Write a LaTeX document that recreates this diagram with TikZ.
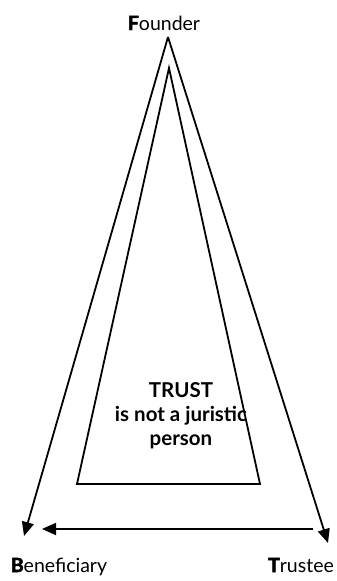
\documentclass[tikz,border=0pt]{standalone}
\usepackage{fontspec}
\setmainfont{Lato}
\newfontfamily\heavyfont[FakeBold=2.5]{Lato}
\newcommand{\heavyinit}[1]{{\heavyfont\bfseries #1}}
\usetikzlibrary{arrows.meta}
\tikzset{
  line/.style={line width=1.8pt, black},
  arr/.style={line, -{Triangle[length=14pt,width=12pt]}},
  lbl/.style={anchor=base, inner sep=0pt, font=\fontsize{19.5}{22}\selectfont},
  inner/.style={anchor=base, inner sep=0pt, font=\fontsize{20.5}{24}\selectfont\bfseries}
}
\begin{document}
\begin{tikzpicture}[x=1pt,y=-1pt]
\useasboundingbox (0,0) rectangle (337,581);
% labels
\node[lbl] (founder) at (164,30) {\heavyinit{F}ounder};
\node[lbl] (benef) at (59,572) {\heavyinit{B}eneficiary};
\node[lbl] (trustee) at (301,572) {\heavyinit{T}rustee};
% key points
\coordinate (apex) at (168,37);
\coordinate (tipB) at (24,536);
\coordinate (tipT) at (328,543);
\coordinate (hR) at (313,529);
\coordinate (hL) at (42,529);
\coordinate (iA) at (169,68);
\coordinate (iL) at (77,484);
\coordinate (iR) at (260,484);
% outer arrows
\draw[arr] (apex) -- (tipB);
\draw[arr] (apex) -- (tipT);
\draw[arr] (hR) -- (hL);
% inner triangle
\draw[line, line join=miter] (iA) -- (iL) -- (iR) -- cycle;
% inner text
\node[inner] (t1) at (181,397) {TRUST};
\node[inner] (t2) at (181,421) {is not a juristic};
\node[inner] (t3) at (181,445) {person};
\end{tikzpicture}
\end{document}
